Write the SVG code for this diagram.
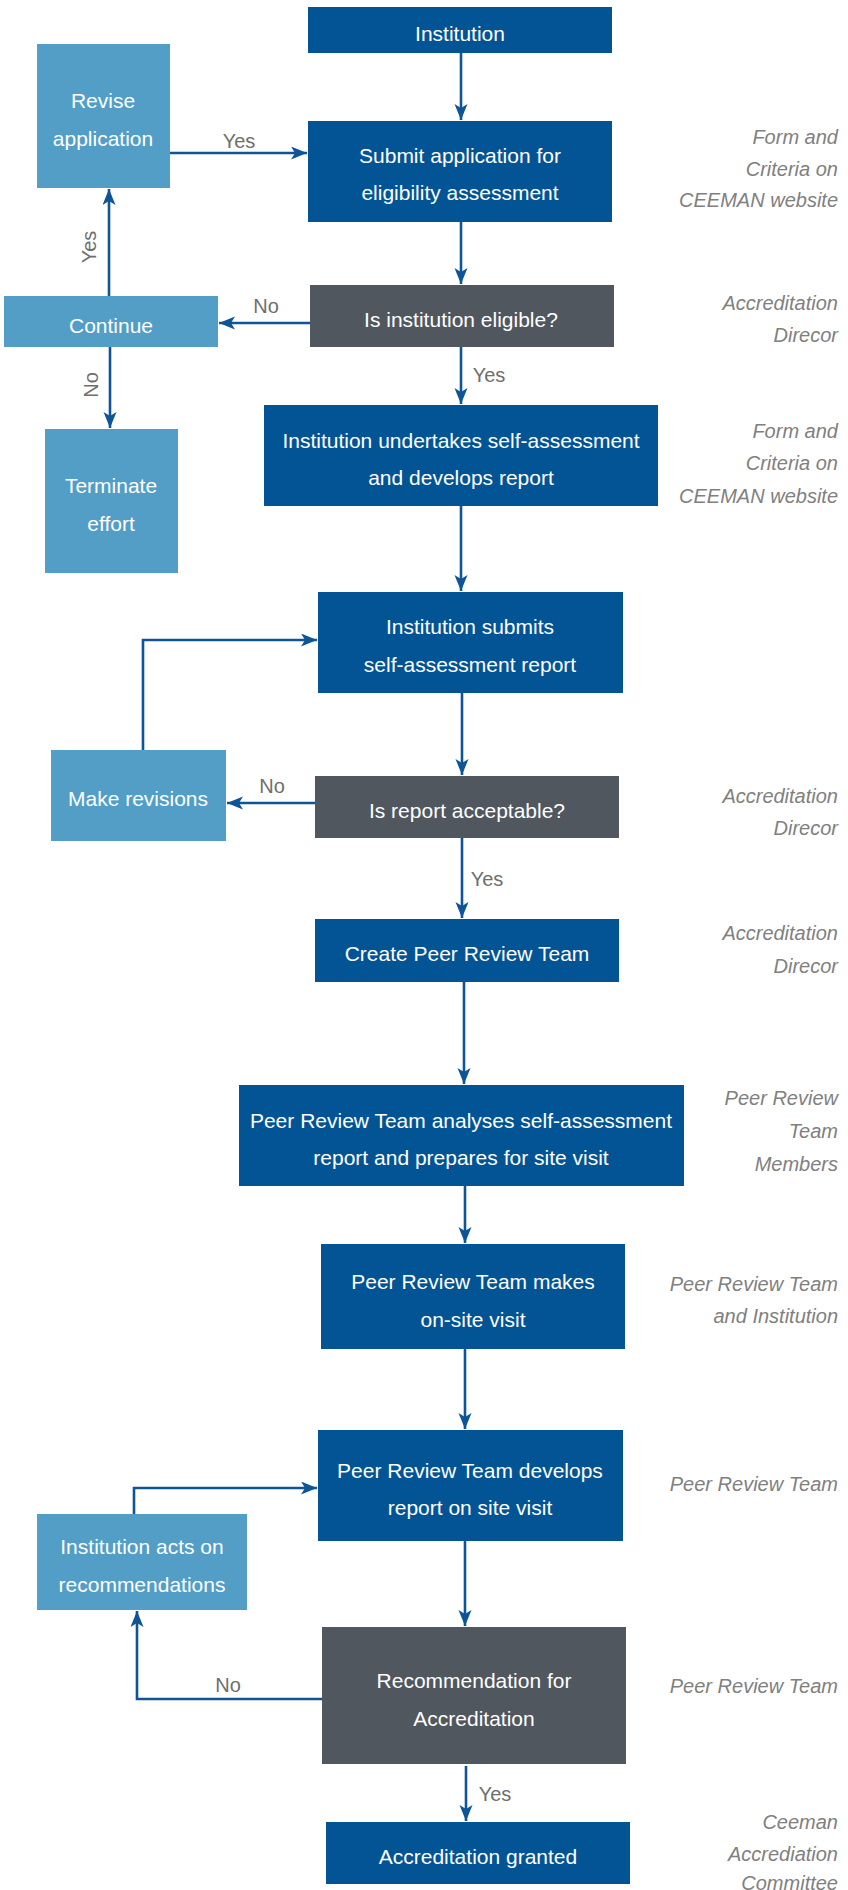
<svg xmlns="http://www.w3.org/2000/svg" width="848" height="1890" viewBox="0 0 848 1890">
<defs>
<style>
.dk{fill:#035494}
.lt{fill:#529ec6}
.gr{fill:#50575f}
.t{font-family:"Liberation Sans",Arial,sans-serif;font-size:21px;fill:#ffffff;text-anchor:middle}
.lb{font-family:"Liberation Sans",Arial,sans-serif;font-size:20px;fill:#6e6e6e;text-anchor:middle}
.rt{font-family:"Liberation Sans",Arial,sans-serif;font-size:20px;font-style:italic;fill:#808080;text-anchor:end}
.c{fill:none;stroke:#0d5596;stroke-width:2.6;marker-end:url(#ah)}
</style>
<marker id="ah" markerUnits="userSpaceOnUse" markerWidth="17" markerHeight="14" refX="16" refY="6.5" orient="auto">
<path d="M0,0 L16,6.5 L0,13 L4,6.5 z" fill="#0d5596"/>
</marker>
</defs>
<rect width="848" height="1890" fill="#ffffff"/>

<g id="connectors">
<path class="c" d="M461,53 L461,120"/>
<path class="c" d="M461,222 L461,284"/>
<path class="c" d="M310,323 L219,323"/>
<path class="c" d="M109,296 L109,189"/>
<path class="c" d="M110,347 L110,428"/>
<path class="c" d="M170,153 L307,153"/>
<path class="c" d="M461,347 L461,404"/>
<path class="c" d="M461,506 L461,591"/>
<path class="c" d="M143,750 L143,640 L317,640"/>
<path class="c" d="M462,693 L462,775"/>
<path class="c" d="M315,803 L227,803"/>
<path class="c" d="M462,838 L462,918"/>
<path class="c" d="M464,982 L464,1084"/>
<path class="c" d="M465,1186 L465,1243"/>
<path class="c" d="M465,1349 L465,1429"/>
<path class="c" d="M134,1514 L134,1488 L317,1488"/>
<path class="c" d="M465,1541 L465,1626"/>
<path class="c" d="M322,1699 L137,1699 L137,1611"/>
<path class="c" d="M466,1766 L466,1821"/>
</g>

<g id="labels">
<text class="lb" x="239" y="148">Yes</text>
<text class="lb" x="266" y="313">No</text>
<text class="lb" transform="translate(96,247) rotate(-90)" x="0" y="0">Yes</text>
<text class="lb" transform="translate(98,385) rotate(-90)" x="0" y="0">No</text>
<text class="lb" x="489" y="382">Yes</text>
<text class="lb" x="272" y="793">No</text>
<text class="lb" x="487" y="886">Yes</text>
<text class="lb" x="228" y="1692">No</text>
<text class="lb" x="495" y="1801">Yes</text>
</g>

<g id="n-institution"><rect class="dk" x="308" y="7" width="304" height="46"/><text class="t" x="460" y="41">Institution</text></g>
<g id="n-revise"><rect class="lt" x="37" y="44" width="133" height="144"/><text class="t" x="103" y="108">Revise</text><text class="t" x="103" y="146">application</text></g>
<g id="n-submit"><rect class="dk" x="308" y="121" width="304" height="101"/><text class="t" x="460" y="163">Submit application for</text><text class="t" x="460" y="200">eligibility assessment</text></g>
<g id="n-eligible"><rect class="gr" x="310" y="285" width="304" height="62"/><text class="t" x="461" y="327">Is institution eligible?</text></g>
<g id="n-continue"><rect class="lt" x="4" y="296" width="214" height="51"/><text class="t" x="111" y="333">Continue</text></g>
<g id="n-terminate"><rect class="lt" x="45" y="429" width="133" height="144"/><text class="t" x="111" y="493">Terminate</text><text class="t" x="111" y="531">effort</text></g>
<g id="n-undertakes"><rect class="dk" x="264" y="405" width="394" height="101"/><text class="t" x="461" y="448">Institution undertakes self-assessment</text><text class="t" x="461" y="485">and develops report</text></g>
<g id="n-submits"><rect class="dk" x="318" y="592" width="305" height="101"/><text class="t" x="470" y="634">Institution submits</text><text class="t" x="470" y="672">self-assessment report</text></g>
<g id="n-makerev"><rect class="lt" x="51" y="750" width="175" height="91"/><text class="t" x="138" y="806">Make revisions</text></g>
<g id="n-acceptable"><rect class="gr" x="315" y="776" width="304" height="62"/><text class="t" x="467" y="818">Is report acceptable?</text></g>
<g id="n-create"><rect class="dk" x="315" y="919" width="304" height="63"/><text class="t" x="467" y="961">Create Peer Review Team</text></g>
<g id="n-analyses"><rect class="dk" x="239" y="1085" width="445" height="101"/><text class="t" x="461" y="1128">Peer Review Team analyses self-assessment</text><text class="t" x="461" y="1165">report and prepares for site visit</text></g>
<g id="n-makes"><rect class="dk" x="321" y="1244" width="304" height="105"/><text class="t" x="473" y="1289">Peer Review Team makes</text><text class="t" x="473" y="1327">on-site visit</text></g>
<g id="n-develops"><rect class="dk" x="318" y="1430" width="305" height="111"/><text class="t" x="470" y="1478">Peer Review Team develops</text><text class="t" x="470" y="1515">report on site visit</text></g>
<g id="n-acts"><rect class="lt" x="37" y="1514" width="210" height="96"/><text class="t" x="142" y="1554">Institution acts on</text><text class="t" x="142" y="1592">recommendations</text></g>
<g id="n-recommend"><rect class="gr" x="322" y="1627" width="304" height="137"/><text class="t" x="474" y="1688">Recommendation for</text><text class="t" x="474" y="1726">Accreditation</text></g>
<g id="n-granted"><rect class="dk" x="326" y="1822" width="304" height="62"/><text class="t" x="478" y="1864">Accreditation granted</text></g>

<g id="responsibles">
<text class="rt" x="838" y="144">Form and</text>
<text class="rt" x="838" y="176">Criteria on</text>
<text class="rt" x="838" y="207">CEEMAN website</text>
<text class="rt" x="838" y="310">Accreditation</text>
<text class="rt" x="838" y="342">Direcor</text>
<text class="rt" x="838" y="438">Form and</text>
<text class="rt" x="838" y="470">Criteria on</text>
<text class="rt" x="838" y="503">CEEMAN website</text>
<text class="rt" x="838" y="803">Accreditation</text>
<text class="rt" x="838" y="835">Direcor</text>
<text class="rt" x="838" y="940">Accreditation</text>
<text class="rt" x="838" y="973">Direcor</text>
<text class="rt" x="838" y="1105">Peer Review</text>
<text class="rt" x="838" y="1138">Team</text>
<text class="rt" x="838" y="1171">Members</text>
<text class="rt" x="838" y="1291">Peer Review Team</text>
<text class="rt" x="838" y="1323">and Institution</text>
<text class="rt" x="838" y="1491">Peer Review Team</text>
<text class="rt" x="838" y="1693">Peer Review Team</text>
<text class="rt" x="838" y="1829">Ceeman</text>
<text class="rt" x="838" y="1861">Accrediation</text>
<text class="rt" x="838" y="1890">Committee</text>
</g>
</svg>
